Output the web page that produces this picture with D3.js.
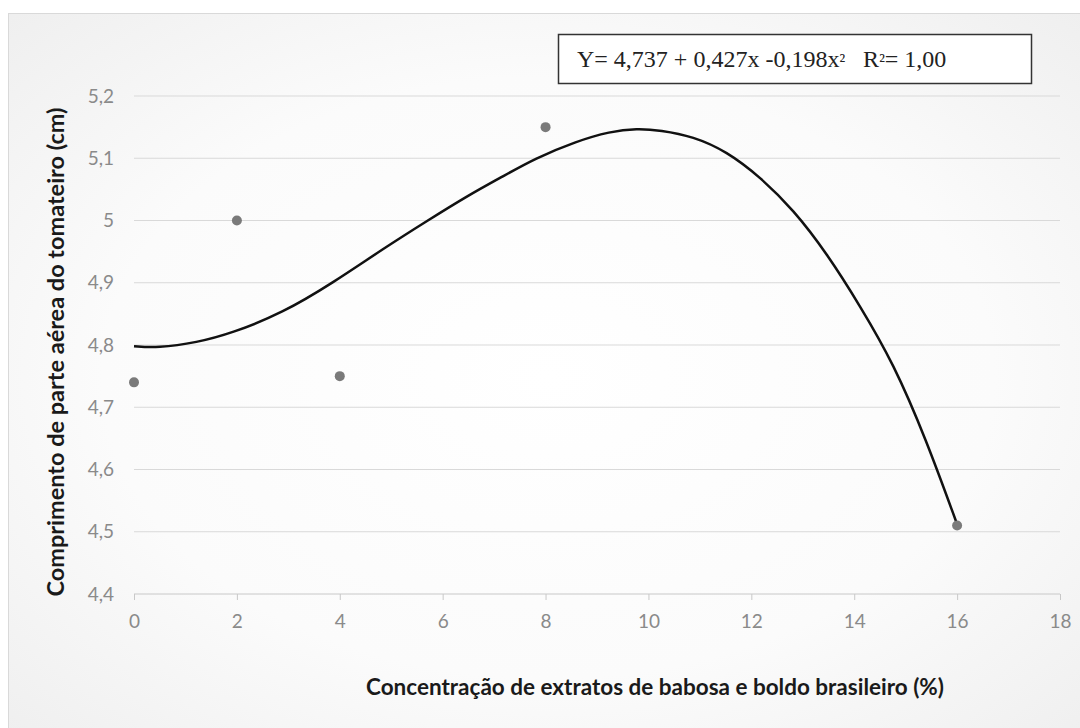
<!DOCTYPE html>
<html>
<head>
<meta charset="utf-8">
<script src="https://cdn.jsdelivr.net/npm/d3@7"></script>
<style>
  body { margin: 0; background: #fff; }
  svg { display: block; }
  .grid line { stroke: #d9d9d9; stroke-width: 1; }
  .tick text { fill: #8a8a8a; font-family: Lato, "Open Sans", sans-serif; font-size: 19px; }
  .axisTitle { font-family: Lato, "Open Sans", sans-serif; font-weight: bold; font-size: 22.5px; fill: #1a1a1a; }
</style>
</head>
<body>
<svg id="chart"></svg>
<script>
// observed values
let concX = [0, 2, 4, 8, 16];
let lengthY = [4.74, 5.00, 4.75, 5.15, 4.51];

// smoothed trend line as drawn in the figure
let curveX = [0, 0.45, 1.23, 1.9, 2.88, 3.87, 4.85, 5.71, 6.49, 7.15, 7.8, 8.59, 9.25, 9.78, 10.23, 10.87, 11.52, 12.17, 12.82, 13.47, 14.12, 14.76, 15.4, 16];
let curveY = [4.798, 4.795, 4.804, 4.819, 4.851, 4.900, 4.955, 5.000, 5.040, 5.070, 5.100, 5.127, 5.143, 5.148, 5.145, 5.135, 5.111, 5.070, 5.017, 4.947, 4.862, 4.771, 4.648, 4.512];

let xTicks = [0, 2, 4, 6, 8, 10, 12, 14, 16, 18];
let yTicks = [4.4, 4.5, 4.6, 4.7, 4.8, 4.9, 5.0, 5.1, 5.2];

// equation pieces: [text, is superscript]
let equationParts = [["Y= 4,737 + 0,427x -0,198x", false], ["²", true], ["   R", false], ["²", true], ["= 1,00", false]];
let xTitle = "Concentração de extratos de babosa e boldo brasileiro (%)";
let yTitle = "Comprimento de parte aérea do tomateiro (cm)";

function getConfig(){
    let width = 1080;
    let height = 728;
    let margin = { top: 96, bottom: 134, left: 134, right: 20 };
    let bodyWidth = width - margin.left - margin.right;
    let bodyHeight = height - margin.top - margin.bottom;
    let container = d3.select('#chart')
        .attr('width', width)
        .attr('height', height);
    return { width, height, margin, bodyWidth, bodyHeight, container };
}

function getScales(config){
    let xScale = d3.scaleLinear()
        .domain([0, 18])
        .range([0, config.bodyWidth]);
    let yScale = d3.scaleLinear()
        .domain([4.4, 5.2])
        .range([config.bodyHeight, 0]);
    return { xScale, yScale };
}

function drawBackground(config){
    let { container, width, height } = config;
    let defs = container.append('defs');
    let grad = defs.append('radialGradient')
        .attr('id', 'bg')
        .attr('cx', '50%').attr('cy', '50%').attr('r', '75%');
    grad.append('stop').attr('offset', '0%').attr('stop-color', '#ffffff');
    grad.append('stop').attr('offset', '55%').attr('stop-color', '#fbfbfb');
    grad.append('stop').attr('offset', '100%').attr('stop-color', '#ededed');

    container.append('rect')
        .attr('x', 8.5)
        .attr('y', 13.5)
        .attr('width', width)
        .attr('height', height)
        .attr('fill', 'url(#bg)')
        .attr('stroke', '#d9d9d9');
}

function drawAxes(scales, config){
    let { xScale, yScale } = scales;
    let { container, margin, bodyWidth, bodyHeight } = config;

    let grid = container.append('g')
        .attr('class', 'grid')
        .attr('transform', `translate(${margin.left},${margin.top})`);
    grid.selectAll('line')
        .data(yTicks.slice(1))
        .join('line')
        .attr('x1', 0)
        .attr('x2', bodyWidth)
        .attr('y1', d => yScale(d))
        .attr('y2', d => yScale(d));

    let fmt = d => String(+d.toFixed(1)).replace('.', ',');

    let axisX = d3.axisBottom(xScale)
        .tickValues(xTicks)
        .tickSize(6)
        .tickPadding(15)
        .tickFormat(fmt);
    let gx = container.append('g')
        .attr('transform', `translate(${margin.left},${margin.top + bodyHeight})`)
        .call(axisX);
    gx.select('.domain').attr('stroke', '#c8c8c8').attr('d', `M0,0H${bodyWidth}`);
    gx.selectAll('.tick line').attr('stroke', '#c8c8c8');

    let axisY = d3.axisLeft(yScale)
        .tickValues(yTicks)
        .tickSize(0)
        .tickPadding(20)
        .tickFormat(fmt);
    let gy = container.append('g')
        .attr('transform', `translate(${margin.left},${margin.top})`)
        .call(axisY);
    gy.select('.domain').remove();

    container.append('text')
        .attr('class', 'axisTitle')
        .attr('x', 655)
        .attr('y', 695)
        .attr('text-anchor', 'middle')
        .text(xTitle);

    container.append('text')
        .attr('class', 'axisTitle')
        .style('font-size', '23.5px')
        .attr('transform', 'translate(64,352) rotate(-90)')
        .attr('text-anchor', 'middle')
        .text(yTitle);
}

function drawMarks(scales, config){
    let { xScale, yScale } = scales;
    let { container, margin } = config;
    let body = container.append('g')
        .attr('transform', `translate(${margin.left},${margin.top})`);

    let curveData = curveX.map((x, i) => ({ x, y: curveY[i] }));
    let line = d3.line()
        .x(d => xScale(d.x))
        .y(d => yScale(d.y))
        .curve(d3.curveBasis);
    body.append('path')
        .datum(curveData)
        .attr('d', line)
        .attr('fill', 'none')
        .attr('stroke', '#111')
        .attr('stroke-width', 2.5);

    let pts = concX.map((x, i) => ({ x, y: lengthY[i] }));
    body.selectAll('circle')
        .data(pts)
        .join('circle')
        .attr('cx', d => xScale(d.x))
        .attr('cy', d => yScale(d.y))
        .attr('r', 5)
        .attr('fill', '#7a7a7a');
}

function drawEquation(config){
    let { container } = config;
    let box = container.append('g');
    box.append('rect')
        .attr('x', 558.5)
        .attr('y', 34.5)
        .attr('width', 473)
        .attr('height', 49)
        .attr('fill', '#fff')
        .attr('stroke', '#333')
        .attr('stroke-width', 1.5);
    box.append('text')
        .attr('x', 577)
        .attr('y', 67)
        .attr('font-family', '"Liberation Serif", "Times New Roman", serif')
        .attr('font-size', 24)
        .attr('fill', '#222')
        .style('white-space', 'pre')
        .selectAll('tspan')
        .data(equationParts)
        .join('tspan')
        .attr('font-size', d => d[1] ? 19 : 24)
        .text(d => d[0]);
}

function drawChart(){
    let config = getConfig();
    let scales = getScales(config);
    drawBackground(config);
    drawAxes(scales, config);
    drawMarks(scales, config);
    drawEquation(config);
}

drawChart();
</script>
</body>
</html>
